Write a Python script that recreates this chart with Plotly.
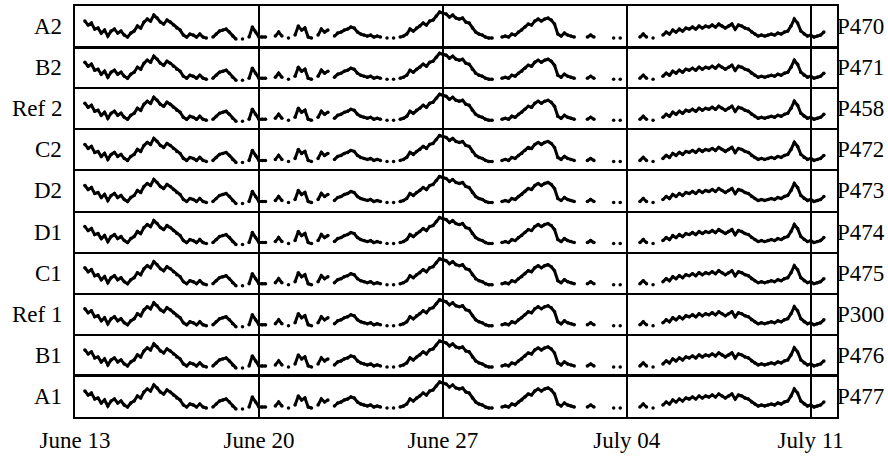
import pandas as pd
import plotly.graph_objects as go
from plotly.subplots import make_subplots

# Panel names, top to bottom, and the probe id shown on the right of each panel
row_labels = ["A2", "B2", "Ref 2", "C2", "D2", "D1", "C1", "Ref 1", "B1", "A1"]
probe_ids = ["P470", "P471", "P458", "P472", "P473", "P474", "P475", "P300", "P476", "P477"]

# Date axis labels (weekly)
tick_dates = ["2023-06-13", "2023-06-20", "2023-06-27", "2023-07-04", "2023-07-11"]
tick_text = ["June 13", "June 20", "June 27", "July 04", "July 11"]

# 3-hourly readings from June 13 00:00, one line per day (None = no reading)
level = [
    None, None, None, 26, 22, 24, 18, 19,     # Jun 13
    14, 17, 11, 16, 18, 14, 16, 12,           # Jun 14
    10, 14, 16, 21, 19, 25, 28, 26,           # Jun 15
    32, 29, 25, 23, 27, 25, 22, 19,           # Jun 16
    17, 12, 10, 13, 12, 10, 13, 10,           # Jun 17
    9, None, 10, 13, 16, 17, 18, 15,          # Jun 18
    11, 8, None, 8, None, 10, 20, 15,         # Jun 19
    10, 10, 10, None, None, 11, 15, 11,       # Jun 20
    None, 9, None, 12, 21, 17, 19, 10,        # Jun 21
    9, None, 12, 18, 15, 17, None, 11,        # Jun 22
    14, 15, 17, 18, 20, 19, 15, 13,           # Jun 23
    12, 11, 12, 10, 11, 10, None, 9,          # Jun 24
    None, 9, None, 10, 11, 13, 18, 16,        # Jun 25
    19, 21, 24, 22, 26, 27, 31, 35,           # Jun 26
    34, 33, 30, 32, 29, 28, 29, 25,           # Jun 27
    24, 19, 15, 13, 12, 10, 9, 9,             # Jun 28
    None, None, 10, 11, 10, 13, 12, 15,       # Jun 29
    17, 20, 23, 22, 26, 28, 26, 28,           # Jun 30
    29, 27, 23, 13, 11, 14, 12, 11,           # Jul 01
    10, None, None, None, 10, 12, 10, None,   # Jul 02
    None, None, None, None, 9, None, 9, None, # Jul 03
    None, None, None, None, 10, 13, 10, None, # Jul 04
    9, None, None, 12, 15, 13, 17, 15,        # Jul 05
    18, 16, 19, 18, 20, 18, 21, 19,           # Jul 06
    21, 20, 22, 20, 23, 21, 19, 21,           # Jul 07
    23, 18, 22, 21, 19, 18, 15, 13,           # Jul 08
    11, 12, 11, 12, 13, 12, 14, 13,           # Jul 09
    15, 16, 21, 28, 24, 16, 13, 11,           # Jul 10
    12, 10, 11, 12, 15, None, None, None,     # Jul 11
]

times = pd.date_range("2023-06-13", periods=len(level), freq="3h")

FONT = "Liberation Serif"
FONT_SIZE = 23
n_rows = len(row_labels)

fig = make_subplots(rows=n_rows, cols=1, shared_xaxes=True, vertical_spacing=0)

for i in range(n_rows):
    fig.add_trace(
        go.Scatter(
            x=times, y=level, mode="lines+markers",
            line=dict(color="black", width=3),
            marker=dict(color="black", size=3.5),
            connectgaps=False, showlegend=False, hoverinfo="skip",
        ),
        row=i + 1, col=1,
    )

fig.update_xaxes(
    range=["2023-06-13", "2023-07-12"],
    tickvals=tick_dates, ticktext=tick_text,
    showgrid=True, gridcolor="black", gridwidth=2,
    showline=True, mirror=True, linecolor="black", linewidth=1,
    zeroline=False, ticks="", automargin=False,
    tickfont=dict(family=FONT, size=FONT_SIZE, color="black"),
)
fig.update_xaxes(showticklabels=False)
fig.update_xaxes(showticklabels=True, ticklabelstandoff=1, linewidth=2, row=n_rows, col=1)
fig.update_xaxes(linewidth=2, row=1, col=1)

fig.update_yaxes(
    range=[0, 41.1], showgrid=False, zeroline=False, showticklabels=False, ticks="",
    showline=True, mirror=True, linecolor="black", linewidth=2, automargin=False,
)

annotations = []
for i in range(n_rows):
    yref = "y domain" if i == 0 else f"y{i + 1} domain"
    annotations.append(dict(
        text=row_labels[i], xref="paper", x=0, xanchor="right", xshift=-11,
        yref=yref, y=0.5, yanchor="middle", showarrow=False,
        font=dict(family=FONT, size=FONT_SIZE, color="black"),
    ))
    annotations.append(dict(
        text=probe_ids[i], xref="paper", x=1, xanchor="left", xshift=-2,
        yref=yref, y=0.5, yanchor="middle", showarrow=False,
        font=dict(family=FONT, size=FONT_SIZE, color="black"),
    ))

fig.update_layout(
    width=888, height=456,
    margin=dict(l=75, r=51, t=6, b=39),
    paper_bgcolor="white", plot_bgcolor="white",
    annotations=annotations,
)

fig.write_html("out.html")
